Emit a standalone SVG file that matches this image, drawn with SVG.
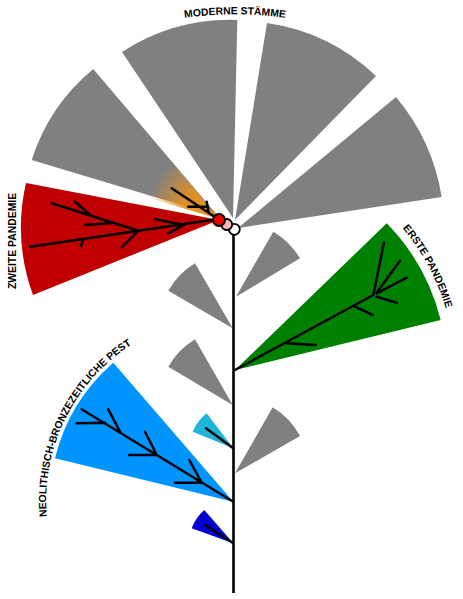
<svg xmlns="http://www.w3.org/2000/svg" width="463" height="599" viewBox="0 0 463 599">
<style>
.g{fill:#808080}
.br{stroke:#000;stroke-width:2.5;fill:none;stroke-linecap:round}
.lbl{font-family:"Liberation Sans",Arial,sans-serif;font-weight:bold;font-size:10.4px;fill:#000}
.c{stroke:#000;stroke-width:1.8}
</style>
<defs>
<radialGradient id="og" gradientUnits="userSpaceOnUse" cx="219" cy="219" r="74">
<stop offset="0" stop-color="#e8921e" stop-opacity="1"/>
<stop offset="0.5" stop-color="#e8921e" stop-opacity="0.9"/>
<stop offset="1" stop-color="#e8921e" stop-opacity="0"/>
</radialGradient>
<path id="tp1" d="M 135 28.5 A 360 360 0 0 1 335 28.5"/>
<path id="tp2" d="M 366.2 194 A 219.5 219.5 0 0 1 454.1 357.4"/>
<path id="tp3" d="M 51.7 546.2 A 186 186 0 0 1 158 330.5"/>
</defs>
<rect width="463" height="599" fill="#fff"/>
<g id="modern-wedges">
<path class="g" d="M 218 216 L 31.7 160 A 194 194 0 0 1 93.3 69 Z"/>
<path class="g" d="M 233 218 L 122 52 A 199 199 0 0 1 237.3 20 Z"/>
<path class="g" d="M 235 220 L 267 23 A 200 200 0 0 1 376 76 Z"/>
<path class="g" d="M 238 228 L 396 97 A 206 206 0 0 1 441.7 197 Z"/>
</g>
<g id="orange-fan">
<path d="M 219 219 L 150 198.3 A 72 72 0 0 1 173.4 163.3 Z" fill="url(#og)"/>
<path class="br" d="M 171.7 188.3 L 218.3 219.3 M 188.3 206.7 L 207 206.7 M 206.7 201.7 L 208.7 212.5"/>
</g>
<g id="zweite-pandemie">
<path fill="#c00000" d="M 219 220 L 33 295 A 198 198 0 0 1 26 183 Z"/>
<path class="br" d="M 30 246.7 L 216.7 219.3 M 51.7 203.3 L 138.3 230.7 M 75 201.7 L 90 215 M 85 225 L 111.7 223 M 121.7 247.3 L 138.3 230.7 M 81 246 L 83.3 239 M 155 219.3 L 181.7 224.4 M 168.3 233.3 L 186.7 223.3"/>
</g>
<g id="small-wedges">
<path class="g" d="M 236 296.7 L 273.3 231.7 A 75 75 0 0 1 300 258.3 Z"/>
<path class="g" d="M 232.7 328.3 L 168.3 290.7 A 75 75 0 0 1 195 263.3 Z"/>
<path class="g" d="M 232.7 405 L 168.3 366.7 A 75 75 0 0 1 195 339.3 Z"/>
<path class="g" d="M 235 473.3 L 272.7 407.3 A 75 75 0 0 1 300 436 Z"/>
</g>
<g id="erste-pandemie">
<path fill="#008000" d="M 235 370 L 386.7 223.3 A 211 211 0 0 1 440.7 320 Z"/>
<path class="br" d="M 235 370 L 373.3 295 M 373.3 295 L 384 242.7 M 376.7 292.7 L 400 260.7 M 376.7 293.3 L 406.7 277.7 M 376.7 296.7 L 396.7 302.7 M 355 306.7 L 372.7 315 M 286.7 343.3 L 316 345"/>
</g>
<g id="neolithisch-pest">
<path fill="#0094ff" d="M 233.3 501.7 L 55 458.3 A 184 184 0 0 1 113.3 362.7 Z"/>
<path class="br" d="M 81.7 409.3 L 233.3 501.7 M 76.7 423.3 L 105 422.7 M 108.3 409.3 L 120 431.7 M 129.3 455 L 156.7 455 M 145 431.7 L 156.7 455 M 175 482.7 L 201.7 482.7 M 189.3 460 L 201.7 482.7"/>
</g>
<g id="cyan-clade">
<path fill="#1fb4dc" d="M 233.3 448.3 L 192.7 431.7 A 44 44 0 0 1 206.7 413.3 Z"/>
<path class="br" d="M 206 428.3 L 233.3 448.3"/>
</g>
<g id="darkblue-clade">
<path fill="#0000d2" d="M 233.3 543.3 L 191.7 528.3 A 44 44 0 0 1 204.3 510 Z"/>
<path class="br" d="M 205 525 L 233.3 543.3"/>
</g>
<g id="connectors">
<line x1="233.5" y1="230" x2="233.5" y2="593" stroke="#000" stroke-width="2.6"/>
</g>
<g id="root-nodes">
<circle class="c" cx="234.3" cy="229.3" r="5.5" fill="#fff"/>
<circle class="c" cx="226.7" cy="224.5" r="5.5" fill="#f4b6b6"/>
<circle class="c" cx="219" cy="220" r="6" fill="#f00000"/>
</g>
<g id="labels">
<text class="lbl" text-anchor="middle"><textPath href="#tp1" startOffset="50%">MODERNE STÄMME</textPath></text>
<text class="lbl" text-anchor="middle" transform="translate(15.5,241) rotate(-90)">ZWEITE PANDEMIE</text>
<text class="lbl" text-anchor="middle"><textPath href="#tp2" startOffset="50%">ERSTE PANDEMIE</textPath></text>
<text class="lbl" text-anchor="middle"><textPath href="#tp3" startOffset="50%">NEOLITHISCH-BRONZEZEITLICHE PEST</textPath></text>
</g>
</svg>
